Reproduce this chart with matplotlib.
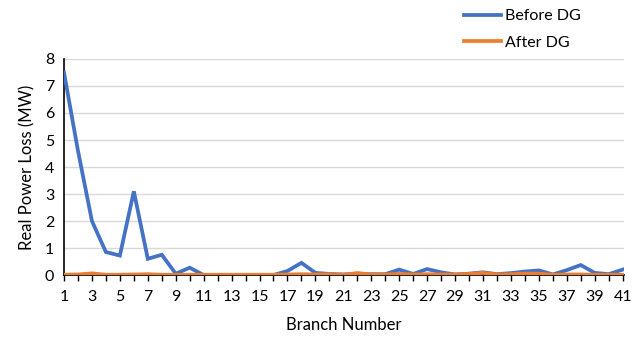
import matplotlib
matplotlib.use("Agg")
import matplotlib.pyplot as plt

plt.rcParams['font.family'] = ['Lato', 'DejaVu Sans']

branches = list(range(1, 42))
before_dg = [7.5, 4.6, 2.0, 0.85, 0.72, 3.1, 0.6, 0.75, 0.05, 0.27,
             0.0, 0.0, 0.0, 0.0, 0.0, 0.0, 0.15, 0.45, 0.08, 0.04,
             0.02, 0.05, 0.03, 0.03, 0.2, 0.04, 0.22, 0.1, 0.02, 0.05,
             0.1, 0.03, 0.07, 0.13, 0.17, 0.02, 0.18, 0.37, 0.08, 0.03,
             0.2]
after_dg = [0.01, 0.02, 0.06, 0.01, 0.01, 0.02, 0.03, 0.01, 0.01, 0.01,
            0.01, 0.01, 0.01, 0.01, 0.01, 0.01, 0.02, 0.03, 0.02, 0.03,
            0.01, 0.07, 0.02, 0.02, 0.04, 0.02, 0.03, 0.02, 0.02, 0.04,
            0.08, 0.02, 0.03, 0.05, 0.05, 0.01, 0.02, 0.02, 0.01, 0.01,
            0.01]
xtick_labels = [str(b) if b % 2 == 1 else '' for b in branches]

fig = plt.figure(figsize=(6.42, 3.41), dpi=100)
ax = fig.add_axes([0.0997, 0.1935, 0.8723, 0.6335])

ax.plot(branches, before_dg, color='#4472C4', lw=2.7, label='Before DG',
        solid_joinstyle='miter', zorder=3)
ax.plot(branches, after_dg, color='#ED7D31', lw=2.7, label='After DG',
        solid_joinstyle='miter', zorder=4)

ax.set_xlim(1, 41.1)
ax.set_ylim(0, 8)
ax.set_yticks(range(0, 9))
ax.set_xticks(branches)
ax.set_xticklabels(xtick_labels)
ax.tick_params(axis='x', length=4, width=1, direction='out', labelsize=11.5,
               colors='#000000', pad=7)
ax.tick_params(axis='y', length=0, labelsize=11.5, pad=7)

ax.grid(axis='y', color='#D9D9D9', lw=1)
ax.set_axisbelow(True)
for s in ['top', 'right']:
    ax.spines[s].set_visible(False)
ax.spines['left'].set_color('black')
ax.spines['left'].set_linewidth(1.2)
ax.spines['bottom'].set_color('black')
ax.spines['bottom'].set_linewidth(1.2)

ax.set_xlabel('Branch Number', fontsize=12, labelpad=9)
ax.set_ylabel('Real Power Loss (MW)', fontsize=12, labelpad=7)

fig.legend(loc='upper left', bbox_to_anchor=(0.70, 1.015), frameon=False,
           fontsize=11.5, handlelength=2.3, handletextpad=0.25,
           labelspacing=0.75)

fig.savefig('out.png', dpi=100, facecolor='white')
